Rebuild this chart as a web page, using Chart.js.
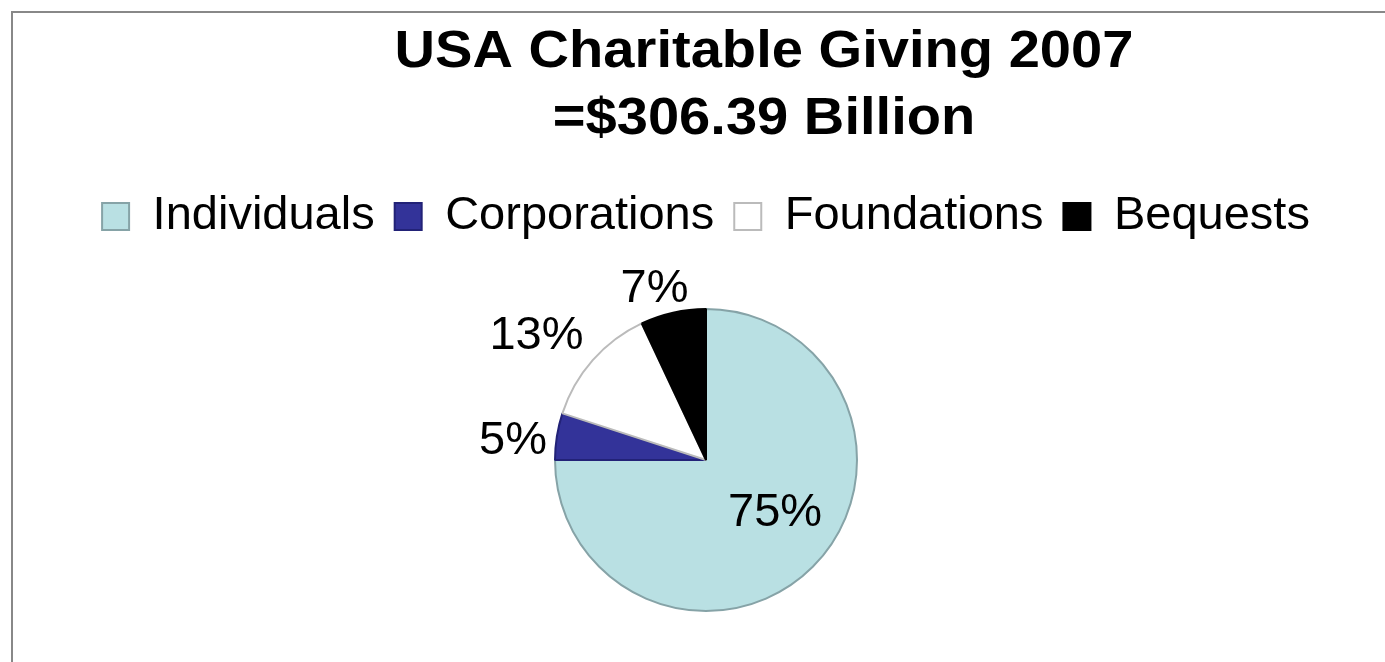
<!DOCTYPE html>
<html>
<head>
<meta charset="utf-8">
<script src="https://cdn.jsdelivr.net/npm/chart.js@4/dist/chart.umd.min.js"></script>
<style>
  html, body { margin: 0; padding: 0; background: #fff; overflow: hidden; width: 1385px; height: 662px; }
  #frame { position: absolute; left: 11px; top: 11px; width: 1374px; height: 700px;
           border-left: 2px solid #888888; border-top: 2px solid #888888; box-sizing: border-box; }
  #wrap { position: absolute; left: 13px; top: 13px; width: 1372px; height: 680px; }
</style>
</head>
<body>
<div id="frame"></div>
<div id="wrap"><canvas id="c" width="1372" height="680"></canvas></div>
<script>
// Sources of US charitable giving, 2007 (share of total, %)
const categories = ['Individuals', 'Corporations', 'Foundations', 'Bequests'];
const shares = [75, 5, 13, 7];
const titleLines = ['USA Charitable Giving 2007', '=$306.39 Billion'];

const fillColors = ['#B9E0E3', '#333399', '#FFFFFF', '#000000'];
const edgeColors = ['#86A3A7', '#222277', '#BBBBBB', '#000000'];

const FONT = '"Liberation Sans", Arial, sans-serif';

// Two-line bold heading, slightly widened like the original slide typography
const headingPlugin = {
  id: 'heading',
  afterDraw(chart, args, opts) {
    const ctx = chart.ctx;
    ctx.save();
    ctx.fillStyle = '#000';
    ctx.font = 'bold 51px ' + FONT;
    ctx.textAlign = 'center';
    ctx.textBaseline = 'alphabetic';
    const sx = opts.stretch;
    ctx.scale(sx, 1);
    opts.lines.forEach((line, i) => {
      ctx.fillText(line, opts.centerX / sx, opts.baselines[i]);
    });
    ctx.restore();
  }
};

// Percentage labels placed along each slice's mid-angle
const sliceLabelPlugin = {
  id: 'sliceLabels',
  afterDatasetsDraw(chart, args, opts) {
    const ctx = chart.ctx;
    const meta = chart.getDatasetMeta(0);
    const values = chart.data.datasets[0].data;
    ctx.save();
    ctx.fillStyle = '#000';
    ctx.font = '47px ' + FONT;
    ctx.textAlign = 'center';
    ctx.textBaseline = 'middle';
    meta.data.forEach((arc, i) => {
      const p = arc.getProps(['x', 'y', 'startAngle', 'endAngle', 'outerRadius'], true);
      const mid = (p.startAngle + p.endAngle) / 2;
      const r = p.outerRadius * opts.radial[i];
      const nx = opts.nudge[i][0], ny = opts.nudge[i][1];
      ctx.fillText(values[i] + '%', p.x + Math.cos(mid) * r + nx, p.y + Math.sin(mid) * r + ny);
    });
    ctx.restore();
  }
};

new Chart(document.getElementById('c'), {
  type: 'pie',
  data: {
    labels: categories,
    datasets: [{
      data: shares,
      backgroundColor: fillColors,
      borderColor: edgeColors,
      borderWidth: 2
    }]
  },
  plugins: [headingPlugin, sliceLabelPlugin],
  options: {
    responsive: false,
    animation: false,
    radius: 151,
    layout: { padding: { top: 160, left: 14, right: 0, bottom: 23 } },
    plugins: {
      title: { display: false },
      tooltip: { enabled: false },
      legend: {
        position: 'top',
        labels: {
          boxWidth: 27,
          boxHeight: 27,
          padding: 20,
          color: '#000',
          font: { family: FONT, size: 47 }
        }
      },
      heading: {
        lines: titleLines,
        centerX: 751,
        baselines: [54, 121],
        stretch: 1.1
      },
      sliceLabels: {
        radial: [0.6, 1.26, 1.4, 1.2],
        nudge: [[5, -11], [-5, 11], [-11, 16], [-12, 6]]
      }
    }
  }
});
</script>
</body>
</html>
